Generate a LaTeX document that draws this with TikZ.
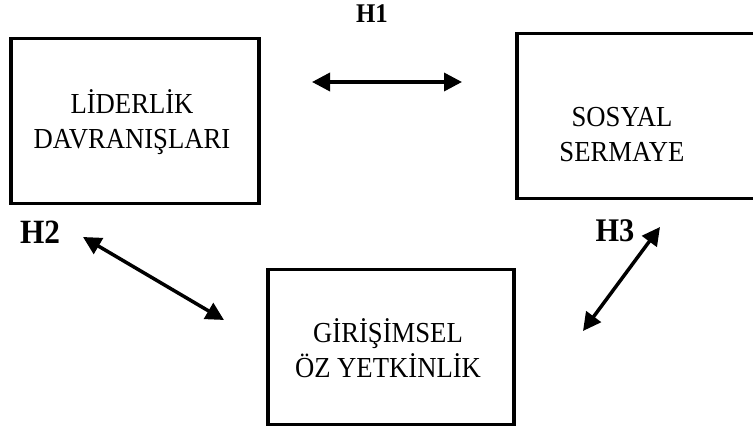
\documentclass[tikz,border=0pt]{standalone}
\usepackage{fontspec}
\setmainfont{Liberation Serif}
\newfontfamily\dar[FakeStretch=0.92]{Liberation Serif}
\usetikzlibrary{arrows.meta,positioning}

\begin{document}
\begin{tikzpicture}[x=1pt, y=-1pt,
                    kutu/.style = {draw, line width=3.5pt, inner sep=0pt, anchor=north west},
                    metin/.style = {align=center, font=\dar\fontsize{29}{35}\selectfont},
                    hipo/.style = {font=\dar\fontsize{27}{30}\selectfont\bfseries},
                    ok/.style = {line width=3.5pt, {Triangle[length=18pt,width=18pt]}-{Triangle[length=18pt,width=18pt]}}]
                \useasboundingbox (0,0) rectangle (753,430);
                \clip (0,0) rectangle (753,430);
                % kutular
                \node[kutu, minimum width=248pt, minimum height=165pt] (nlid) at (9,37) {};
                \node[kutu, minimum width=241pt, minimum height=165pt] (nsos) at (515,32) {};
                \node[kutu, minimum width=246pt, minimum height=155pt] (ngir) at (266,268) {};
                \node[metin] (tlid) at (132,122) {LİDERLİK\\DAVRANIŞLARI};
                \node[metin] (tsos) at (622,135) {SOSYAL\\SERMAYE};
                \node[metin] (tgir) at (388,348) {GİRİŞİMSEL\\ÖZ YETKİNLİK};
                % hipotezler
                \node[hipo] (h1) at (372,14) {H1};
                \node[hipo, font=\dar\fontsize{34}{36}\selectfont\bfseries] (h2) at (40,232) {H2};
                \node[hipo, font=\dar\fontsize{33}{36}\selectfont\bfseries] (h3) at (615,231) {H3};
                \coordinate (a1) at (312,82);
                \coordinate (b1) at (462,82);
                \coordinate (a2) at (83,237);
                \coordinate (b2) at (224,320);
                \coordinate (a3) at (660,227);
                \coordinate (b3) at (583,331);
                \draw[ok] (a1) -- (b1);
                \draw[ok] (a2) -- (b2);
                \draw[ok] (a3) -- (b3);
                \end{tikzpicture}
\end{document}
